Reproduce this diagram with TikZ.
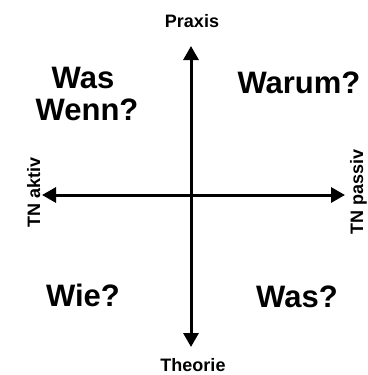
\documentclass[tikz,border=0pt]{standalone}
\usepackage{fontspec}
\setmainfont{Liberation Sans}
\usetikzlibrary{arrows.meta}
\begin{document}
\begin{tikzpicture}[x=1pt,y=-1pt,
  axis/.style={line width=3pt,-{Triangle[width=15pt,length=14pt]}},
  small/.style={font=\fontsize{18}{21}\selectfont\bfseries,inner sep=0pt,anchor=base},
  big/.style={font=\fontsize{31}{32}\selectfont\bfseries,inner sep=0pt,anchor=base}]
\useasboundingbox (0,0) rectangle (367,375);
\coordinate (c) at (191,195);
\coordinate (top) at (191,46);
\coordinate (bot) at (191,347);
\coordinate (left) at (42,195);
\coordinate (right) at (345,195);
\draw[axis] (c) -- (top);
\draw[axis] (c) -- (bot);
\draw[axis] (c) -- (left);
\draw[axis] (c) -- (right);
\node[small] (praxis) at (192,27) {Praxis};
\node[small] (theorie) at (193,371) {Theorie};
\node[small,rotate=90] (aktiv) at (40,192.5) {TN aktiv};
\node[small,rotate=90] (passiv) at (363,192) {TN passiv};
\node[big] (was1) at (83,88) {Was};
\node[big] (wenn) at (87,120) {Wenn?};
\node[big] (warum) at (299,93) {Warum?};
\node[big] (wie) at (83,306) {Wie?};
\node[big] (was2) at (297,307) {Was?};
\end{tikzpicture}
\end{document}
